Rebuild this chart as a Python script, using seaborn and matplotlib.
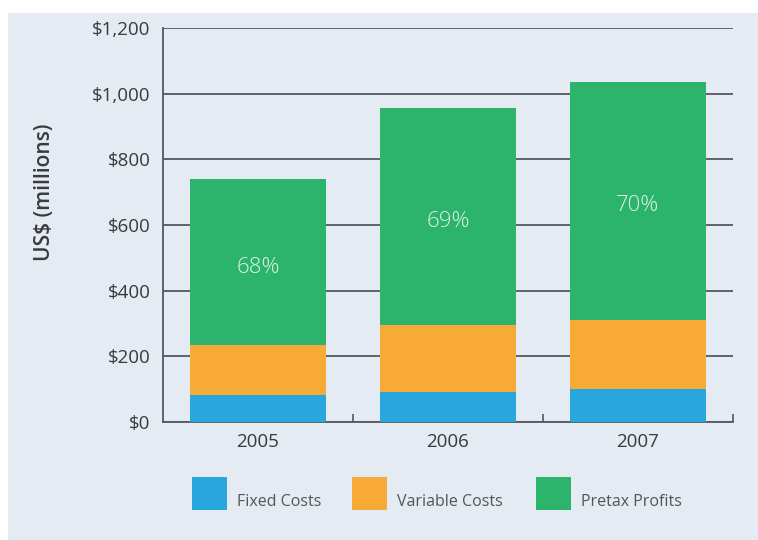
import matplotlib
matplotlib.use("Agg")
import matplotlib.pyplot as plt
from matplotlib.patches import Rectangle
import seaborn as sns
import pandas as pd

# Revenue breakdown (US$ millions)
years = ["2005", "2006", "2007"]
fixed_costs = [82, 92, 100]
variable_costs = [152, 203, 210]
pretax_profits = [506, 660, 726]
profit_share = ["68%", "69%", "70%"]
y_ticks = [0, 200, 400, 600, 800, 1000, 1200]
y_tick_labels = ["$0", "$200", "$400", "$600", "$800", "$1,000", "$1,200"]
series_names = ["Fixed Costs", "Variable Costs", "Pretax Profits"]

BLUE = "#2aa6df"
ORANGE = "#f8aa36"
GREEN = "#2db46c"
PANEL = "#e4ebf3"
INK = "#3a3a3a"
RULE = "#54585e"

sns.set_theme(style="white")
plt.rcParams["font.family"] = ["Open Sans", "DejaVu Sans"]

df = pd.DataFrame({
    "year": years,
    "fixed": fixed_costs,
    "variable": variable_costs,
    "profit": pretax_profits,
})
df["costs"] = df["fixed"] + df["variable"]
df["total"] = df["costs"] + df["profit"]

W, H = 758, 540
fig = plt.figure(figsize=(W / 100, H / 100), dpi=100)
fig.patch.set_facecolor("white")
fig.patches.append(Rectangle((8 / W, 0), 1 - 8 / W, 1 - 13 / H,
                             transform=fig.transFigure, facecolor=PANEL,
                             edgecolor="none", zorder=-10))

ax = fig.add_axes([163 / W, 1 - 422 / H, (733 - 163) / W, (422 - 28) / H])
ax.set_facecolor("none")

# Stacked bars: draw cumulative heights from the tallest down
sns.barplot(data=df, x="year", y="total", color=GREEN, width=0.72,
            saturation=1, ax=ax, zorder=3, linewidth=0)
sns.barplot(data=df, x="year", y="costs", color=ORANGE, width=0.72,
            saturation=1, ax=ax, zorder=3, linewidth=0)
sns.barplot(data=df, x="year", y="fixed", color=BLUE, width=0.72,
            saturation=1, ax=ax, zorder=3, linewidth=0)

# Profit share labels inside each green segment
for i, row in df.iterrows():
    mid = row["costs"] + row["profit"] / 2 - 15
    ax.text(i, mid, profit_share[i], ha="center", va="center",
            fontsize=16, fontweight="light", color="#dcf3df", zorder=5)

ax.set_xlim(-0.5, 2.5)
ax.set_ylim(0, 1200)
ax.set_yticks(y_ticks)
ax.set_yticklabels(y_tick_labels, fontsize=13.5, color=INK)
ax.yaxis.grid(True, color=RULE, linewidth=1.3)
ax.set_axisbelow(True)
ax.tick_params(axis="y", length=0, pad=9)
ax.tick_params(axis="x", which="major", length=0, pad=8, labelsize=13.5, labelcolor=INK)
ax.set_xticks([0.5, 1.5, 2.5], minor=True)
ax.tick_params(axis="x", which="minor", direction="in", length=6, width=1.2,
               color=RULE, bottom=True)
ax.set_xlabel("")
ax.set_ylabel("US$ (millions)", fontsize=15, fontweight="semibold", color=INK)
ax.yaxis.set_label_coords((55 - 163) / 570, (422 - 192) / 394)

for side in ["top", "right"]:
    ax.spines[side].set_visible(False)
for side in ["left", "bottom"]:
    ax.spines[side].set_visible(True)
    ax.spines[side].set_color(RULE)
    ax.spines[side].set_linewidth(1.3)

# Legend row beneath the chart: colour swatch followed by its label
swatch_x = [192, 352, 536]
for x0, color, name in zip(swatch_x, (BLUE, ORANGE, GREEN), series_names):
    fig.patches.append(Rectangle((x0 / W, 1 - 510 / H), 35 / W, 33 / H,
                                 transform=fig.transFigure, facecolor=color,
                                 edgecolor="none", zorder=2))
    fig.text((x0 + 45) / W, 1 - 506 / H, name, ha="left", va="baseline",
             fontsize=11.5, color="#555555")

fig.savefig("out.png", dpi=100, facecolor=fig.get_facecolor())
